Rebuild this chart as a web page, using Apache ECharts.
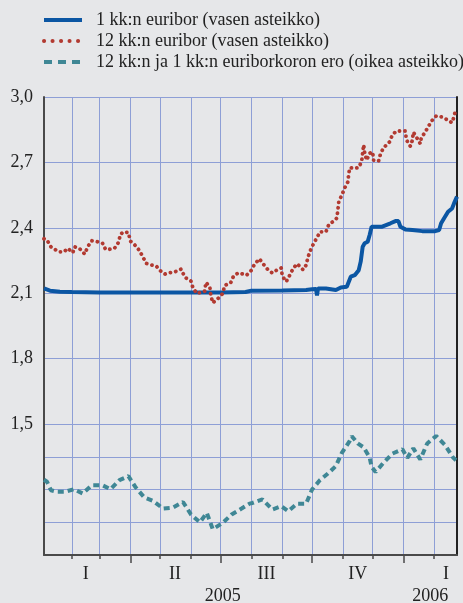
<!DOCTYPE html>
<html>
<head>
<meta charset="utf-8">
<script src="https://cdn.jsdelivr.net/npm/echarts@6/dist/echarts.min.js"></script>
<style>
  html, body { margin: 0; padding: 0; background: #e6e7e9; }
  #chart { width: 463px; height: 603px; }
</style>
</head>
<body>
<div id="chart"></div>
<script>
// 1 kk:n euribor (vasen asteikko)
var eur1mDates = ['2005-01-04','2005-01-10','2005-01-20','2005-02-01','2005-03-01','2005-04-01','2005-05-01',
  '2005-06-01','2005-07-01','2005-07-26','2005-08-01','2005-09-01','2005-09-25','2005-10-01','2005-10-05',
  '2005-10-06','2005-10-07','2005-10-15','2005-10-25','2005-10-30','2005-11-05','2005-11-07','2005-11-09',
  '2005-11-13','2005-11-17','2005-11-19','2005-11-21','2005-11-23','2005-11-26','2005-11-28','2005-11-30',
  '2005-12-02','2005-12-10','2005-12-19','2005-12-24','2005-12-27','2005-12-29','2006-01-03','2006-01-10',
  '2006-01-20','2006-02-02','2006-02-06','2006-02-08','2006-02-11','2006-02-15','2006-02-19','2006-02-21',
  '2006-02-24'];
var eur1mValues = [2.122, 2.112, 2.107, 2.106, 2.104, 2.104, 2.104,
  2.104, 2.104, 2.106, 2.112, 2.113, 2.115, 2.118, 2.120,
  2.090, 2.122, 2.122, 2.115, 2.127, 2.130, 2.153, 2.176,
  2.183, 2.206, 2.245, 2.313, 2.329, 2.336, 2.367, 2.405,
  2.400, 2.405, 2.421, 2.431, 2.431, 2.405, 2.393, 2.390,
  2.385, 2.385, 2.390, 2.421, 2.444, 2.474, 2.489, 2.512,
  2.543];

// 12 kk:n euribor (vasen asteikko)
var eur12mDates = ['2005-01-04','2005-01-07','2005-01-11','2005-01-14','2005-01-19','2005-01-24','2005-01-28',
  '2005-02-02','2005-02-04','2005-02-09','2005-02-14','2005-02-17','2005-02-21','2005-02-25','2005-03-04',
  '2005-03-07','2005-03-10','2005-03-16','2005-03-20','2005-03-22','2005-03-25','2005-03-30','2005-04-01',
  '2005-04-05','2005-04-10','2005-04-14','2005-04-17','2005-04-21','2005-04-27','2005-05-02','2005-05-06',
  '2005-05-10','2005-05-15','2005-05-22','2005-05-26','2005-06-01','2005-06-03','2005-06-07','2005-06-15',
  '2005-06-16','2005-06-20','2005-06-21','2005-06-23','2005-06-29','2005-07-03','2005-07-05','2005-07-11',
  '2005-07-14','2005-07-19','2005-07-27','2005-08-01','2005-08-04','2005-08-09','2005-08-12','2005-08-17',
  '2005-08-22','2005-08-26','2005-08-31','2005-09-01','2005-09-05','2005-09-09','2005-09-12','2005-09-16',
  '2005-09-22','2005-09-25','2005-09-27','2005-09-30','2005-10-03','2005-10-06','2005-10-09','2005-10-15',
  '2005-10-18','2005-10-22','2005-10-26','2005-10-27','2005-10-28','2005-10-31','2005-11-03','2005-11-06',
  '2005-11-07','2005-11-08','2005-11-12','2005-11-17','2005-11-20','2005-11-21','2005-11-22','2005-11-23',
  '2005-11-25','2005-11-28','2005-12-01','2005-12-02','2005-12-07','2005-12-09','2005-12-12','2005-12-18',
  '2005-12-21','2005-12-25','2005-12-31','2006-01-03','2006-01-04','2006-01-08','2006-01-10','2006-01-11',
  '2006-01-14','2006-01-18','2006-01-19','2006-01-23','2006-01-26','2006-01-30','2006-02-03','2006-02-09',
  '2006-02-14','2006-02-19','2006-02-21','2006-02-23'];
var eur12mValues = [2.350, 2.344, 2.313, 2.304, 2.290, 2.290, 2.306,
  2.286, 2.313, 2.304, 2.280, 2.313, 2.341, 2.339, 2.329,
  2.301, 2.301, 2.306, 2.333, 2.370, 2.382, 2.378, 2.339,
  2.324, 2.297, 2.263, 2.237, 2.231, 2.225, 2.200, 2.188,
  2.194, 2.197, 2.211, 2.173, 2.156, 2.125, 2.099, 2.110,
  2.150, 2.130, 2.092, 2.056, 2.079, 2.099, 2.136, 2.148,
  2.180, 2.194, 2.183, 2.206, 2.233, 2.258, 2.239, 2.211,
  2.193, 2.205, 2.216, 2.179, 2.153, 2.187, 2.214, 2.235,
  2.208, 2.229, 2.267, 2.304, 2.332, 2.355, 2.382, 2.382,
  2.417, 2.428, 2.445, 2.483, 2.522, 2.550, 2.584, 2.610,
  2.648, 2.676, 2.673, 2.676, 2.706, 2.745, 2.781, 2.745,
  2.710, 2.742, 2.748, 2.710, 2.706, 2.740, 2.767, 2.794,
  2.827, 2.844, 2.844, 2.844, 2.804, 2.774, 2.801, 2.839,
  2.817, 2.786, 2.813, 2.839, 2.864, 2.893, 2.913, 2.908,
  2.896, 2.882, 2.910, 2.948];

// 12 kk:n ja 1 kk:n euriborkoron ero (oikea asteikko)
var spreadDates = ['2005-01-04','2005-01-07','2005-01-11','2005-01-17','2005-01-25','2005-02-03','2005-02-12',
  '2005-02-21','2005-03-04','2005-03-12','2005-03-21','2005-03-30','2005-04-06','2005-04-15','2005-04-24',
  '2005-05-04','2005-05-14','2005-05-24','2005-06-01','2005-06-10','2005-06-17','2005-06-23','2005-07-03',
  '2005-07-12','2005-07-22','2005-07-30','2005-08-02','2005-08-12','2005-08-22','2005-08-31','2005-09-07',
  '2005-09-16','2005-09-25','2005-10-01','2005-10-09','2005-10-17','2005-10-25','2005-10-31','2005-11-08',
  '2005-11-10','2005-11-16','2005-11-22','2005-11-28','2005-11-30','2005-12-04','2005-12-12','2005-12-21',
  '2005-12-31','2006-01-05','2006-01-11','2006-01-18','2006-01-25','2006-02-03','2006-02-12','2006-02-20',
  '2006-02-23'];
var spreadValues = [0.230, 0.224, 0.198, 0.193, 0.193, 0.201, 0.188,
  0.213, 0.213, 0.201, 0.229, 0.241, 0.208, 0.176, 0.165,
  0.142, 0.145, 0.162, 0.124, 0.100, 0.129, 0.079, 0.098,
  0.124, 0.142, 0.157, 0.159, 0.170, 0.139, 0.149, 0.134,
  0.157, 0.157, 0.200, 0.229, 0.249, 0.272, 0.312, 0.349,
  0.363, 0.341, 0.329, 0.298, 0.269, 0.254, 0.282, 0.310,
  0.323, 0.297, 0.326, 0.292, 0.341, 0.364, 0.336, 0.298,
  0.290];

// akselin jaotukset
var monthTicks = ['2005-02-01','2005-03-01','2005-04-01','2005-05-01','2005-06-01','2005-07-01','2005-08-01',
  '2005-09-01','2005-10-01','2005-11-01','2005-12-01','2006-01-01','2006-02-01'];
var quarterTicks = ['2005-04-01','2005-07-01','2005-10-01','2006-01-01'];
var quarterLabelDates = ['2005-02-15','2005-05-16','2005-08-16','2005-11-16','2006-02-13'];
var quarterLabels = ['I','II','III','IV','I'];
var yearLabelDates = ['2005-07-03','2006-01-28'];
var yearLabels = ['2005','2006'];
var leftTicks = [0.9, 1.05, 1.2, 1.35, 1.5, 1.8, 2.1, 2.4, 2.7, 3.0];
var leftLabels = [1.5, 1.8, 2.1, 2.4, 2.7, 3.0];

var names = ['1 kk:n euribor (vasen asteikko)', '12 kk:n euribor (vasen asteikko)',
  '12 kk:n ja 1 kk:n euriborkoron ero (oikea asteikko)'];

function t(s) { return new Date(s + 'T00:00:00').getTime(); }
function zip(ds, vs) { return ds.map(function (d, i) { return [t(d), vs[i]]; }); }

var serif = '"Liberation Serif", "DejaVu Serif", serif';
var gridColor = '#8e9fd6';
var axisColor = '#4a4a4a';
var blue = '#0b56a3', red = '#b23a31', teal = '#3f8795';
var noSymbol = { color: 'transparent', borderWidth: 0, opacity: 0 };

var xMin = t('2005-01-04'), xMax = t('2006-02-24');
var qTimes = quarterLabelDates.map(t);
var yTimes = yearLabelDates.map(t);

var myChart = echarts.init(document.getElementById('chart'));

var option = {
  animation: false,
  backgroundColor: '#e6e7e9',
  legend: {
    orient: 'vertical',
    left: 42,
    top: 11,
    padding: 0,
    itemWidth: 38,
    itemHeight: 14,
    itemGap: 3,
    textStyle: { fontFamily: serif, fontSize: 18, color: '#222', lineHeight: 16, padding: [0, 0, 0, 9] },
    data: [
      { name: names[0], itemStyle: noSymbol, lineStyle: { width: 4 } },
      { name: names[1], itemStyle: noSymbol, lineStyle: { width: 4, type: [0.1, 8.4], cap: 'round' } },
      { name: names[2], itemStyle: noSymbol, lineStyle: { width: 4, type: [8, 6] } }
    ]
  },
  grid: { left: 44, right: 6, top: 97, bottom: 48, outerBoundsMode: 'none' },
  xAxis: [{
    // aika-akseli päivämäärinä (ms), kuukausijaotus
    type: 'value',
    min: xMin,
    max: xMax,
    position: 'bottom',
    offset: 0,
    axisLine: { show: true, onZero: false, lineStyle: { color: axisColor, width: 2 } },
    axisTick: { show: true, customValues: monthTicks.map(t), length: 4, lineStyle: { color: axisColor, width: 1.5 } },
    axisLabel: {
      show: true, customValues: qTimes, margin: 10,
      fontFamily: serif, fontSize: 18, color: '#222',
      formatter: function (v) { var i = qTimes.indexOf(v); return i >= 0 ? quarterLabels[i] : ''; }
    },
    splitLine: { show: true, lineStyle: { color: gridColor, width: 1 } }
  }, {
    type: 'value',
    min: xMin,
    max: xMax,
    position: 'bottom',
    offset: 0,
    axisLine: { show: false, onZero: false },
    axisTick: { show: true, customValues: quarterTicks.map(t), length: 8, lineStyle: { color: axisColor, width: 1.5 } },
    axisLabel: {
      show: true, customValues: yTimes, margin: 32,
      fontFamily: serif, fontSize: 18, color: '#222',
      formatter: function (v) { var i = yTimes.indexOf(v); return i >= 0 ? yearLabels[i] : ''; }
    },
    splitLine: { show: false }
  }],
  yAxis: [{
    type: 'value',
    min: 0.9,
    max: 3.0,
    position: 'left',
    axisLine: { show: true, lineStyle: { color: axisColor, width: 2 } },
    axisTick: { show: false, customValues: leftTicks },
    axisLabel: {
      customValues: leftLabels, margin: 11,
      fontFamily: serif, fontSize: 18, color: '#222',
      formatter: function (v) { return v.toFixed(1).replace('.', ','); }
    },
    splitLine: { show: true, lineStyle: { color: gridColor, width: 1 } }
  }, {
    type: 'value',
    min: 0,
    max: 1.4,
    position: 'right',
    axisLine: { show: true, lineStyle: { color: '#222', width: 2 } },
    axisTick: { show: false },
    axisLabel: { show: false },
    splitLine: { show: false }
  }],
  series: [{
    name: names[0],
    type: 'line',
    yAxisIndex: 0,
    symbol: 'none',
    data: zip(eur1mDates, eur1mValues),
    lineStyle: { color: blue, width: 4 },
    itemStyle: { color: blue },
    z: 3
  }, {
    name: names[1],
    type: 'line',
    yAxisIndex: 0,
    symbol: 'none',
    data: zip(eur12mDates, eur12mValues),
    lineStyle: { color: red, width: 3.8, type: [0.1, 5.4], cap: 'round' },
    itemStyle: { color: red },
    z: 4
  }, {
    name: names[2],
    type: 'line',
    yAxisIndex: 1,
    symbol: 'none',
    data: zip(spreadDates, spreadValues),
    lineStyle: { color: teal, width: 4, type: [6, 4] },
    itemStyle: { color: teal },
    z: 3
  }]
};

myChart.setOption(option);
</script>
</body>
</html>
